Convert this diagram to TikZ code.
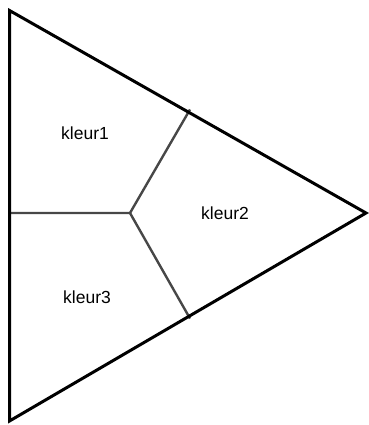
\documentclass[tikz,border=0pt]{standalone}
\usepackage{fontspec}
\setmainfont{Liberation Sans}
\begin{document}
\begin{tikzpicture}[x=1pt,y=-1pt,
  outer/.style={line width=3pt,black,line join=miter},
  inner/.style={line width=2.4pt,black!72},
  lbl/.style={font=\fontsize{17.5}{20}\selectfont}]
\useasboundingbox (0,0) rectangle (368,425);
\coordinate (A) at (9.5,10.5);
\coordinate (B) at (9.5,421);
\coordinate (C) at (366,213);
\coordinate (O) at (130,213);
\coordinate (L) at (9.5,213);
\coordinate (T) at (190,109.5);
\coordinate (D) at (190,318.5);
\draw[inner] (L) -- (O) -- (T);
\draw[inner] (O) -- (D);
\draw[outer] (A) -- (C) -- (B) -- cycle;
\node[lbl] (k1) at (85,133.5) {kleur1};
\node[lbl] (k2) at (225,213.5) {kleur2};
\node[lbl] (k3) at (87,297) {kleur3};
\end{tikzpicture}
\end{document}
